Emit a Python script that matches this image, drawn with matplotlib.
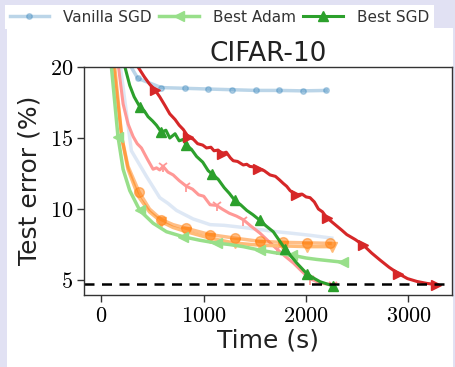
import numpy as np
import matplotlib
matplotlib.use("Agg")
import matplotlib.pyplot as plt
from matplotlib.patches import Rectangle
from matplotlib.ticker import FuncFormatter

plt.rcParams['mathtext.fontset'] = 'cm'

# ---- data (time in s, test error in %) ----
vanilla_x = [0, 126, 356, 585, 815, 1040, 1275, 1510, 1735, 1970, 2195]
vanilla_y = [90, 22, 19.2, 18.55, 18.5, 18.45, 18.4, 18.35, 18.35, 18.32, 18.35]

paleblue_x = [0, 150, 293, 440, 570, 650, 734, 896, 980, 1062, 1200, 1386,
              1550, 1712, 1850, 2038, 2250]
paleblue_y = [90, 22, 14.1, 12.3, 10.8, 10.4, 9.9, 9.3, 9.1, 8.9, 8.85, 8.7,
              8.55, 8.4, 8.3, 8.15, 7.95]

adam_x = [0, 98, 162, 212, 277, 375, 505, 636, 798, 962, 1125, 1250, 1386,
          1550, 1712, 1859, 2000, 2104, 2364]
adam_y = [60, 20, 15.1, 12.8, 11.3, 9.9, 9.0, 8.4, 8.05, 7.8, 7.6, 7.5, 7.35,
          7.1, 6.9, 6.75, 6.55, 6.45, 6.25]
adam_marks = [2, 5, 8, 10, 13, 15, 18]

sgd_x = [0, 150, 230, 277, 320, 375, 420, 456, 500, 538, 587, 630, 668, 720,
         760, 800, 831, 880, 930, 990, 1043, 1076, 1140, 1200, 1250, 1304, 1360,
         1420, 1480, 1549, 1610, 1679, 1794, 1850, 1908, 2006, 2070, 2136, 2266]
sgd_y = [60, 25, 20, 18.7, 17.9, 17.2, 16.9, 16.5, 16.2, 15.9, 15.4, 15.55,
         15.0, 15.3, 14.8, 14.9, 14.5, 14.2, 13.7, 13.3, 12.7, 12.5, 12.1, 11.5,
         11.1, 10.6, 10.3, 9.9, 9.6, 9.2, 8.8, 8.4, 7.2, 6.7, 6.2, 5.45, 5.15,
         4.88, 4.58]
sgd_marks = [5, 10, 16, 21, 25, 29, 32, 35, 38]

red_x = [0, 200, 358, 420, 470, 522, 570, 620, 668, 720, 760, 800, 847, 900,
         940, 990, 1027, 1070, 1100, 1140, 1174, 1220, 1260, 1288, 1330, 1386,
         1420, 1450, 1500, 1532, 1590, 1647, 1700, 1740, 1777, 1810, 1843, 1900,
         1960, 2000, 2038, 2080, 2120, 2160, 2201, 2250, 2300, 2350, 2397, 2480,
         2560, 2640, 2723, 2810, 2902, 2990, 3082, 3180, 3270]
red_y = [60, 30, 20, 19.3, 18.8, 18.4, 17.9, 17.3, 16.7, 16.3, 15.9, 15.6,
         15.1, 14.9, 14.6, 14.5, 14.3, 14.35, 14.1, 14.15, 13.9, 14.0, 13.6, 13.4,
         13.35, 13.1, 13.15, 13.0, 12.95, 12.85, 12.7, 12.4, 12.3, 12.05, 11.8,
         11.6, 11.3, 11.0, 11.05, 10.85, 10.8, 10.5, 10.0, 9.8, 9.4, 9.1, 8.8, 8.5,
         8.2, 7.85, 7.45, 6.9, 6.4, 5.9, 5.45, 5.1, 4.9, 4.76, 4.68]
red_marks = [5, 12, 20, 29, 37, 44, 50, 54, 58]

pink_x = [0, 150, 212, 260, 310, 350, 391, 450, 505, 538, 570, 603, 650, 701,
          760, 831, 890, 950, 1000, 1062, 1125, 1190, 1250, 1320, 1386, 1460,
          1549, 1630, 1712, 1790, 1875, 1960, 2038, 2100, 2168, 2266]
pink_y = [60, 21, 17.4, 16.0, 15.1, 14.6, 14.3, 13.5, 12.8, 12.9, 12.75, 13.0,
          12.6, 12.4, 12.0, 11.6, 11.4, 11.0, 10.9, 10.3, 10.25, 9.95, 9.7, 9.5,
          9.25, 8.8, 8.3, 7.75, 7.2, 6.7, 6.2, 5.6, 5.1, 4.9, 4.75, 4.65]
pink_marks = [11, 15, 20, 24, 28, 32, 35]

orange_o_x = [0, 120, 200, 260, 368, 470, 587, 700, 825, 1060, 1304, 1549,
              1777, 2006, 2234]
orange_o_y = [60, 20, 15, 13, 11.2, 10.0, 9.25, 8.9, 8.65, 8.2, 7.95, 7.72,
              7.65, 7.62, 7.58]
orange_o_marks = [4, 6, 8, 9, 10, 11, 12, 13, 14]

orange_v_x = [0, 130, 200, 260, 360, 470, 587, 700, 831, 1060, 1304, 1549,
              1777, 2006, 2250]
orange_v_y = [60, 20, 15, 12.8, 10.9, 9.8, 9.1, 8.7, 8.4, 7.95, 7.6, 7.45,
              7.4, 7.35, 7.35]
orange_v_marks = [6, 8, 9, 10, 11, 12, 13, 14]

target_err = 4.7

fig = plt.figure(figsize=(4.56, 3.67), dpi=100)
fig.patch.set_facecolor('#e1e1f3')
W, H = 456, 367
fig.add_artist(Rectangle((7 / W, 0), 446 / W, (H - 28) / H,
                         transform=fig.transFigure, facecolor='white',
                         edgecolor='none', zorder=0))

ax = fig.add_axes([84.5 / W, (H - 294.5) / H, (452 - 84.5) / W, (294.5 - 67) / H])
ax.set_facecolor('white')

ms = 6.5
l_van, = ax.plot(vanilla_x, vanilla_y, color='#1f77b4', alpha=0.3, lw=2.5,
                 marker='o', ms=4)
ax.plot(paleblue_x, paleblue_y, color='#aec7e8', alpha=0.4, lw=2.5)
ax.plot(pink_x, pink_y, color='#ff9896', lw=2.2, marker='1', ms=8, mew=1.3,
        markevery=pink_marks)
ax.plot(orange_v_x, orange_v_y, color='#ffbb78', lw=2.5, marker='v', ms=ms,
        markevery=orange_v_marks)
ax.plot(orange_o_x, orange_o_y, color='#ff7f0e', alpha=0.5, lw=2.5, marker='o',
        ms=ms + 0.5, markevery=orange_o_marks)
l_adam, = ax.plot(adam_x, adam_y, color='#98df8a', lw=2.5, marker='<', ms=ms,
                  markevery=adam_marks)
l_sgd, = ax.plot(sgd_x, sgd_y, color='#2ca02c', lw=2.2, marker='^', ms=ms,
                 markevery=sgd_marks)
ax.plot(red_x, red_y, color='#d62728', lw=2.2, marker='>', ms=ms,
        markevery=red_marks)
ax.axhline(target_err, color='k', lw=1.8, ls=(0, (4, 3)))

ax.set_xlim(-165, 3425)
ax.set_ylim(3.98, 20)
ax.set_xticks([0, 1000, 2000, 3000])
ax.set_yticks([5, 10, 15, 20])
fmt = FuncFormatter(lambda v, p: r'$%d$' % v)
ax.xaxis.set_major_formatter(fmt)
ax.yaxis.set_major_formatter(fmt)
ax.tick_params(labelsize=16, length=5, width=1, color='#333333', pad=3)
for s in ax.spines.values():
    s.set_color('#333333')
    s.set_linewidth(1)

ax.set_title('CIFAR-10', fontsize=19, color='#222222', pad=4)
ax.set_xlabel('Time (s)', fontsize=18, color='#222222', labelpad=2)
ax.set_ylabel('Test error (%)', fontsize=18, color='#222222', labelpad=6)

fig.legend([l_van, l_adam, l_sgd], ['Vanilla SGD', 'Best Adam', 'Best SGD'],
           loc='upper left', bbox_to_anchor=(5 / W, 1 - 5 / H), ncol=3,
           fontsize=11, frameon=True, fancybox=False, edgecolor='none',
           framealpha=1, borderpad=0.3, columnspacing=0.5, handletextpad=0.9,
           handlelength=2.6, borderaxespad=0, labelcolor='#333333')

fig.savefig('out.png', dpi=100, facecolor=fig.get_facecolor())
